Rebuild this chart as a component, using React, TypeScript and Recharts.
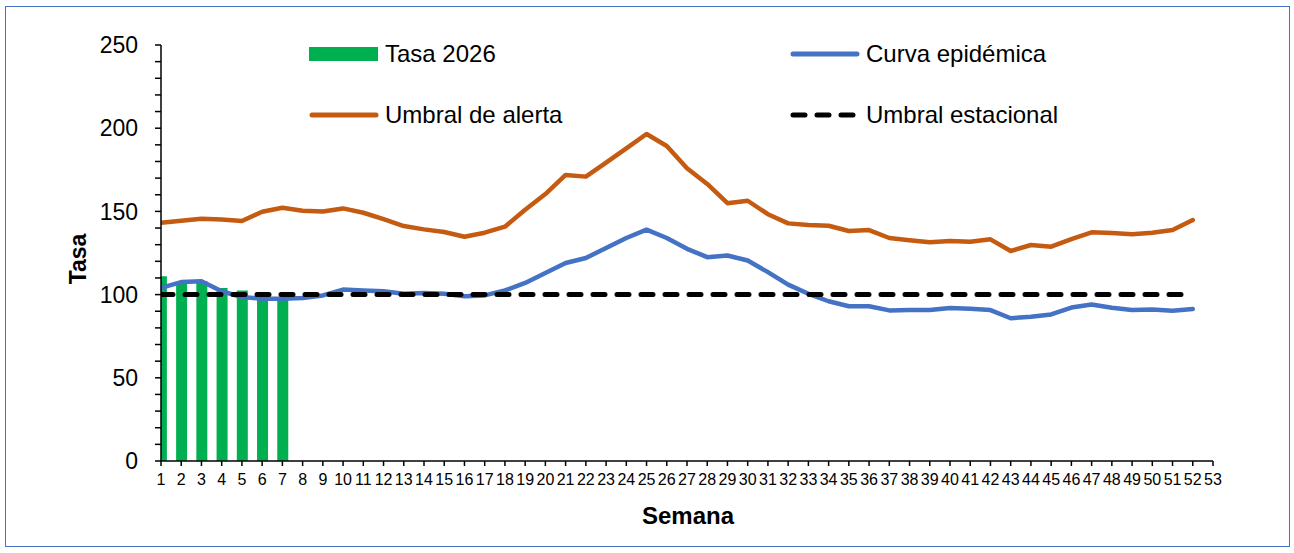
import React from 'react';
import { ComposedChart, Bar, Line, XAxis, YAxis } from 'recharts';

const weeks: number[] = Array.from({ length: 52 }, (_, i) => i + 1);
const xTicks: number[] = Array.from({ length: 53 }, (_, i) => i + 1);
const yTicks: number[] = Array.from({ length: 26 }, (_, i) => i * 10);

const tasa2026: number[] = [111, 107.5, 108, 104, 102.5, 99, 98];

const curvaEpidemica: number[] = [
  104, 107.5, 108, 102, 98.5, 97.5, 97.5, 98, 99.5, 103,
  102.5, 102, 100.5, 101, 100.5, 99, 99.5, 102.5, 107, 113,
  119, 122, 128, 134, 139, 134, 127.5, 122.5, 123.5, 120.5,
  113.5, 106, 100.5, 96, 93, 93, 90.5, 90.7, 90.7, 92,
  91.5, 90.7, 85.8, 86.7, 88.1, 92.2, 94, 92.1, 90.7, 91.1,
  90.3, 91.3,
];

const umbralAlerta: number[] = [
  143.2, 144.4, 145.6, 145.2, 144.2, 149.8, 152.2, 150.4, 150, 151.8,
  149.2, 145.4, 141.2, 139.2, 137.6, 134.8, 137.2, 140.8, 151, 160.4,
  171.9, 170.9, 179.3, 187.9, 196.5, 189.3, 175.9, 166.5, 154.9, 156.4,
  148.3, 142.8, 141.8, 141.4, 138.2, 138.8, 134, 132.6, 131.4, 132.2,
  131.8, 133.2, 126.2, 129.8, 128.8, 133.4, 137.4, 137, 136.2, 137.2,
  138.8, 144.8,
];

const umbralEstacional: number[] = weeks.map(() => 100);

const data = weeks.map((w, i) => ({
  semana: w,
  tasa: i < tasa2026.length ? tasa2026[i] : null,
  curva: curvaEpidemica[i],
  alerta: umbralAlerta[i],
  estacional: umbralEstacional[i],
}));

const FONT = "Arial, 'Liberation Sans', sans-serif";
const GREEN = '#00B050';
const BLUE = '#4472C4';
const ORANGE = '#C55A11';

const legendItems = [
  { label: 'Tasa 2026', kind: 'bar', color: GREEN, x: 309, y: 54 },
  { label: 'Curva epidémica', kind: 'line', color: BLUE, x: 790, y: 54 },
  { label: 'Umbral de alerta', kind: 'line', color: ORANGE, x: 309, y: 115 },
  { label: 'Umbral estacional', kind: 'dash', color: '#000000', x: 790, y: 115 },
];

function LegendOverlay() {
  return (
    <>
      {legendItems.map((it) => (
        <div
          key={it.label}
          style={{
            position: 'absolute',
            left: it.x,
            top: it.y - 15,
            height: 30,
            display: 'flex',
            alignItems: 'center',
            fontFamily: FONT,
            fontSize: 24,
            color: '#000',
            whiteSpace: 'nowrap',
          }}
        >
          <svg width={70} height={30} style={{ display: 'block' }}>
            {it.kind === 'bar' && <rect x={0} y={8} width={69} height={14} fill={it.color} />}
            {it.kind === 'line' && (
              <line x1={3} y1={15} x2={67} y2={15} stroke={it.color} strokeWidth={5} strokeLinecap="round" />
            )}
            {it.kind === 'dash' && (
              <line
                x1={3}
                y1={15}
                x2={67}
                y2={15}
                stroke={it.color}
                strokeWidth={5}
                strokeDasharray="12 12"
                strokeLinecap="round"
              />
            )}
          </svg>
          <span style={{ marginLeft: 6 }}>{it.label}</span>
        </div>
      ))}
    </>
  );
}

export default function App() {
  return (
    <div style={{ position: 'absolute', left: 0, top: 0, width: 1294, height: 553, background: '#fff' }}>
      <div
        style={{
          position: 'absolute',
          left: 5,
          top: 6,
          width: 1283,
          height: 539,
          border: `1.5px solid ${BLUE}`,
        }}
      />
      <div style={{ position: 'absolute', left: 0, top: 0 }}>
        <ComposedChart
          width={1294}
          height={553}
          data={data}
          margin={{ top: 45, right: 81, left: 81, bottom: 62 }}
        >
          <XAxis
            dataKey="semana"
            type="number"
            domain={[1, 53]}
            ticks={xTicks}
            interval={0}
            allowDataOverflow
            height={30}
            stroke="#000"
            strokeWidth={1.5}
            tickSize={5}
            tickMargin={8}
            tick={{ fill: '#000', fontSize: 16, fontFamily: FONT }}
            tickLine={{ stroke: '#000', strokeWidth: 1.5 }}
          />
          <YAxis
            type="number"
            domain={[0, 250]}
            ticks={yTicks}
            interval={0}
            width={80}
            stroke="#000"
            strokeWidth={1.5}
            tickSize={6}
            tickMargin={17}
            tickFormatter={(v: number) => (v % 50 === 0 ? String(v) : '')}
            tick={{ fill: '#000', fontSize: 23, fontFamily: FONT }}
            tickLine={{ stroke: '#000', strokeWidth: 1.5 }}
          />
          <Bar dataKey="tasa" fill={GREEN} barSize={11} isAnimationActive={false} />
          <Line
            dataKey="alerta"
            stroke={ORANGE}
            strokeWidth={4.5}
            dot={false}
            strokeLinecap="round"
            strokeLinejoin="round"
            isAnimationActive={false}
          />
          <Line
            dataKey="curva"
            stroke={BLUE}
            strokeWidth={4.5}
            dot={false}
            strokeLinecap="round"
            strokeLinejoin="round"
            isAnimationActive={false}
          />
          <Line
            dataKey="estacional"
            stroke="#000"
            strokeWidth={5}
            strokeDasharray="12 12"
            strokeLinecap="round"
            dot={false}
            isAnimationActive={false}
          />
        </ComposedChart>
      </div>
      <LegendOverlay />
      <div
        style={{
          position: 'absolute',
          left: 78,
          top: 259,
          transform: 'translate(-50%, -50%) rotate(-90deg)',
          fontFamily: FONT,
          fontWeight: 'bold',
          fontSize: 23,
          whiteSpace: 'nowrap',
        }}
      >
        Tasa
      </div>
      <div
        style={{
          position: 'absolute',
          left: 688,
          top: 516,
          transform: 'translate(-50%, -50%)',
          fontFamily: FONT,
          fontWeight: 'bold',
          fontSize: 24,
          whiteSpace: 'nowrap',
        }}
      >
        Semana
      </div>
    </div>
  );
}
